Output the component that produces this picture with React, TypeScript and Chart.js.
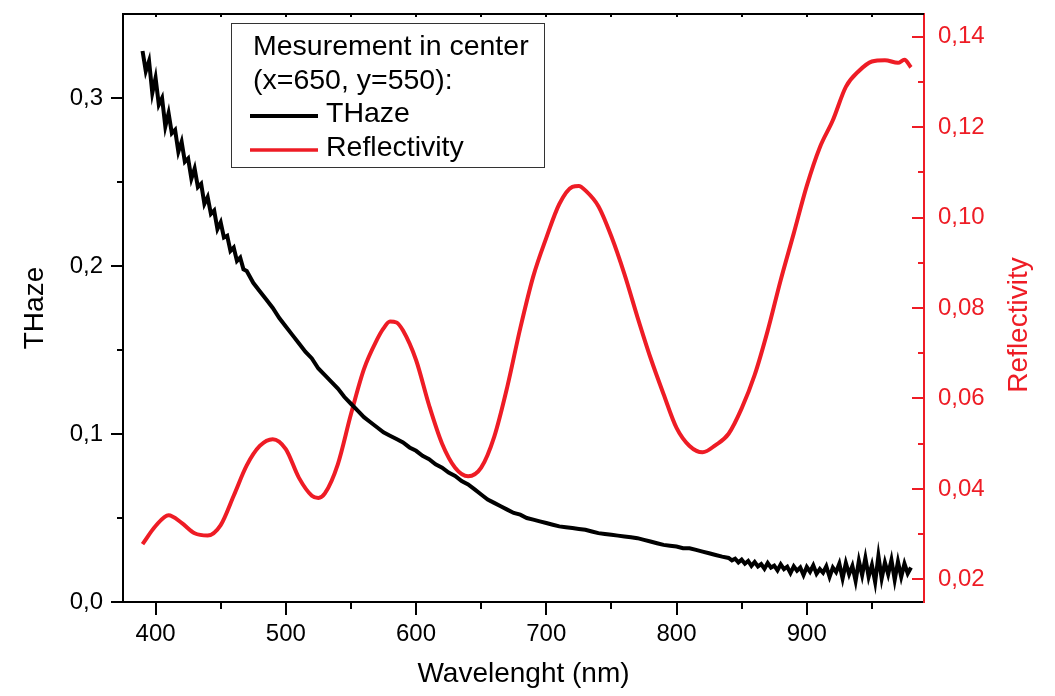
import React, { useEffect, useRef } from 'react';
import { Chart, registerables } from 'chart.js';

Chart.register(...registerables);

const FONT = '"Liberation Sans", Arial, sans-serif';
const RED = '#ee1c25';

// THaze (left axis) – wavelength in nm
const hazeWavelengths = [
  390, 392.5, 395, 397.5, 400, 402.5, 405, 407.5, 410, 412.5, 415, 417.5, 420, 422.5, 425, 427.5,
  430, 432.5, 435, 437.5, 440, 442.5, 445, 447.5, 450, 452.5, 455, 457.5, 460, 462.5, 465, 467.5, 470,
  475, 480, 485, 490, 495, 500, 505, 510, 515, 520, 525, 530, 535, 540, 545, 550, 555, 560, 565, 570,
  575, 580, 585, 590, 595, 600, 605, 610, 615, 620, 625, 630, 635, 640, 645, 650, 655, 660, 665, 670,
  675, 680, 685, 690, 695, 700, 705, 710, 715, 720, 725, 730, 735, 740, 745, 750, 755, 760, 765, 770,
  775, 780, 785, 790, 795, 800, 805, 810, 815, 820, 825, 830, 835,
  840, 842.5, 845, 847.5, 850, 852.5, 855, 857.5, 860, 862.5, 865, 867.5, 870, 872.5, 875, 877.5,
  880, 882.5, 885, 887.5, 890, 892.5, 895, 897.5, 900, 902.5, 905, 907.5, 910, 912.5, 915, 917.5,
  920, 922.5, 925, 927.5, 930, 932.5, 935, 937.5, 940, 942.5, 945, 947.5, 950, 952.5, 955, 957.5,
  960, 962.5, 965, 967.5, 970, 972.5, 975, 977.5, 980,
];
const hazeValues = [
  0.328, 0.316, 0.322, 0.303, 0.312, 0.296, 0.300, 0.283, 0.291, 0.279, 0.281, 0.268, 0.274, 0.262, 0.264, 0.252,
  0.258, 0.247, 0.249, 0.237, 0.241, 0.231, 0.233, 0.222, 0.226, 0.217, 0.218, 0.209, 0.211, 0.203, 0.205, 0.198, 0.197,
  0.190, 0.185, 0.180, 0.175, 0.169, 0.164, 0.159, 0.154, 0.149, 0.145, 0.139, 0.135, 0.131, 0.127, 0.122, 0.118, 0.114, 0.110, 0.107, 0.104,
  0.101, 0.099, 0.097, 0.095, 0.092, 0.090, 0.087, 0.085, 0.082, 0.080, 0.077, 0.075, 0.072, 0.070, 0.067, 0.064, 0.061, 0.059, 0.057, 0.055,
  0.053, 0.052, 0.050, 0.049, 0.048, 0.047, 0.046, 0.045, 0.0445, 0.044, 0.0435, 0.043, 0.042, 0.041, 0.0405, 0.040, 0.0395, 0.039, 0.0385, 0.038,
  0.037, 0.036, 0.035, 0.034, 0.0335, 0.033, 0.032, 0.032, 0.031, 0.030, 0.029, 0.028, 0.027,
  0.0262, 0.0248, 0.0258, 0.0236, 0.0252, 0.0228, 0.0244, 0.0215, 0.0238, 0.0212, 0.0226, 0.0198, 0.0232, 0.0205, 0.0216, 0.0188,
  0.0224, 0.0196, 0.0210, 0.0172, 0.0212, 0.0186, 0.0205, 0.0160, 0.0208, 0.0180, 0.0218, 0.0168, 0.0196, 0.0174, 0.0212, 0.0150,
  0.0205, 0.0178, 0.0228, 0.0140, 0.0232, 0.0165, 0.0215, 0.0125, 0.0245, 0.0160, 0.0262, 0.0150, 0.0220, 0.0118, 0.0275, 0.0140,
  0.0235, 0.0165, 0.0250, 0.0132, 0.0240, 0.0150, 0.0228, 0.0170, 0.0205,
];

// Reflectivity (right axis)
const reflWavelengths = [
  390, 400, 410, 420, 430, 440, 450, 460, 470, 480, 490, 500, 510, 520, 525, 530, 540, 550, 560, 570,
  575, 580, 585, 590, 600, 610, 620, 630, 640, 650, 660, 670, 680, 690, 700, 710, 720, 725, 730, 740,
  750, 760, 770, 780, 790, 800, 810, 820, 830, 840, 850, 860, 870, 880, 890, 900, 910, 920, 930, 940,
  950, 960, 970, 975, 980,
];
const reflValues = [
  0.0278, 0.0318, 0.0342, 0.0325, 0.0302, 0.0297, 0.0320, 0.0385, 0.0452, 0.0495, 0.0510, 0.0488, 0.0425, 0.0385, 0.0380, 0.0390, 0.0455, 0.0565, 0.0665, 0.0730,
  0.0755, 0.0770, 0.0768, 0.0750, 0.0685, 0.0585, 0.0500, 0.0447, 0.0428, 0.0447, 0.0515, 0.0625, 0.0755, 0.0870, 0.0955, 0.1030, 0.1068, 0.1070, 0.1060, 0.1025,
  0.0958, 0.0875, 0.0780, 0.0690, 0.0610, 0.0535, 0.0495, 0.0481, 0.0497, 0.0522, 0.0578, 0.0652, 0.0750, 0.0862, 0.0965, 0.1070, 0.1155, 0.1215, 0.1289, 0.1324,
  0.1345, 0.1348, 0.1342, 0.1349, 0.1332,
];

const xTickValues = [400, 500, 600, 700, 800, 900];
const xMinorTicks = [450, 550, 650, 750, 850, 950];
const leftTickValues = [0, 0.1, 0.2, 0.3];
const leftMinorTicks = [0.05, 0.15, 0.25];
const rightTickValues = [0.02, 0.04, 0.06, 0.08, 0.1, 0.12, 0.14];
const rightMinorTicks = [0.03, 0.05, 0.07, 0.09, 0.11, 0.13];

const legendTitleLines = ['Mesurement in center', '(x=650, y=550):'];
const seriesNames = ['THaze', 'Reflectivity'];
const xTitle = 'Wavelenght (nm)';
const leftTitle = 'THaze';
const rightTitle = 'Reflectivity';

const decorPlugin = {
  id: 'decor',
  afterDraw(chart: any) {
    const ctx = chart.ctx;
    const area = chart.chartArea;
    const xs = chart.scales.x;
    const yl = chart.scales.y;
    const yr = chart.scales.y1;
    ctx.save();
    ctx.lineWidth = 2;
    ctx.lineCap = 'butt';
    ctx.strokeStyle = '#000';
    ctx.beginPath();
    ctx.moveTo(area.left - 1, area.top);
    ctx.lineTo(area.right, area.top);
    ctx.stroke();
    const tick = (x1: number, y1: number, x2: number, y2: number) => {
      ctx.beginPath();
      ctx.moveTo(x1, y1);
      ctx.lineTo(x2, y2);
      ctx.stroke();
    };
    xTickValues.forEach((v) => {
      const p = Math.round(xs.getPixelForValue(v));
      tick(p, area.bottom, p, area.bottom + 13);
      tick(p, area.top, p, area.top + 3);
    });
    xMinorTicks.forEach((v) => {
      const p = Math.round(xs.getPixelForValue(v));
      tick(p, area.bottom, p, area.bottom + 7);
      tick(p, area.top, p, area.top + 3);
    });
    leftTickValues.forEach((v) => {
      const p = Math.round(yl.getPixelForValue(v));
      tick(area.left - 12, p, area.left, p);
    });
    leftMinorTicks.forEach((v) => {
      const p = Math.round(yl.getPixelForValue(v));
      tick(area.left - 6, p, area.left, p);
    });
    ctx.strokeStyle = RED;
    rightTickValues.forEach((v) => {
      const p = Math.round(yr.getPixelForValue(v));
      tick(area.right - 12, p, area.right, p);
    });
    rightMinorTicks.forEach((v) => {
      const p = Math.round(yr.getPixelForValue(v));
      tick(area.right - 6, p, area.right, p);
    });

    // right axis title (reads bottom to top)
    ctx.fillStyle = RED;
    ctx.font = `28px ${FONT}`;
    ctx.textAlign = 'center';
    ctx.textBaseline = 'middle';
    ctx.translate(1019, 325);
    ctx.rotate(-Math.PI / 2);
    ctx.fillText(rightTitle, 0, 0);
    ctx.restore();

    // legend box
    ctx.save();
    ctx.fillStyle = '#fff';
    ctx.fillRect(231, 23, 313, 144);
    ctx.strokeStyle = '#333';
    ctx.lineWidth = 1;
    ctx.strokeRect(231.5, 23.5, 313, 144);
    ctx.fillStyle = '#000';
    ctx.font = `28.5px ${FONT}`;
    ctx.textAlign = 'left';
    ctx.textBaseline = 'middle';
    ctx.fillText(legendTitleLines[0], 253, 47);
    ctx.fillText(legendTitleLines[1], 253, 81);
    const ds = chart.data.datasets;
    const rows = [116, 150];
    ds.forEach((d: any, i: number) => {
      ctx.strokeStyle = d.borderColor;
      ctx.lineWidth = i === 0 ? 4 : 3.5;
      ctx.beginPath();
      ctx.moveTo(250, rows[i]);
      ctx.lineTo(318, rows[i]);
      ctx.stroke();
      ctx.fillStyle = '#000';
      ctx.fillText(seriesNames[i], 326, rows[i] - 2);
    });
    ctx.restore();
  },
};

export default function App() {
  const ref = useRef<HTMLCanvasElement | null>(null);

  useEffect(() => {
    if (!ref.current) return;
    const tickFont = { family: FONT, size: 24 };
    const chart = new Chart(ref.current, {
      type: 'line',
      data: {
        datasets: [
          {
            label: seriesNames[0],
            data: hazeWavelengths.map((x, i) => ({ x, y: hazeValues[i] })),
            borderColor: '#000',
            borderWidth: 4,
            pointRadius: 0,
            tension: 0,
            yAxisID: 'y',
          },
          {
            label: seriesNames[1],
            data: reflWavelengths.map((x, i) => ({ x, y: reflValues[i] })),
            borderColor: RED,
            borderWidth: 4,
            pointRadius: 0,
            cubicInterpolationMode: 'monotone',
            yAxisID: 'y1',
          },
        ],
      },
      options: {
        animation: false,
        responsive: false,
        maintainAspectRatio: false,
        layout: { padding: { top: 14, left: 0, right: 0, bottom: 0 } },
        plugins: { legend: { display: false }, tooltip: { enabled: false } },
        scales: {
          x: {
            type: 'linear',
            position: 'bottom',
            min: 375,
            max: 990,
            grid: { display: false, drawTicks: false },
            border: { display: true, color: '#000', width: 2 },
            ticks: {
              font: tickFont,
              color: '#000',
              padding: 18,
              maxRotation: 0,
              callback: (v: any) => String(v),
            },
            afterBuildTicks: (s: any) => {
              s.ticks = xTickValues.map((v) => ({ value: v }));
            },
            afterFit: (s: any) => {
              s.height = 94;
              s.paddingLeft = 0;
              s.paddingRight = 0;
            },
            title: {
              display: true,
              text: xTitle,
              color: '#000',
              font: { family: FONT, size: 28 },
              padding: { top: 0, bottom: 5 },
            },
          },
          y: {
            type: 'linear',
            position: 'left',
            min: 0,
            max: 0.35,
            grid: { display: false, drawTicks: false },
            border: { display: true, color: '#000', width: 2 },
            ticks: {
              font: tickFont,
              color: '#000',
              padding: 20,
              callback: (v: any) => Number(v).toFixed(1).replace('.', ','),
            },
            afterBuildTicks: (s: any) => {
              s.ticks = leftTickValues.map((v) => ({ value: v }));
            },
            afterFit: (s: any) => {
              s.width = 123;
              s.paddingTop = 0;
              s.paddingBottom = 0;
            },
            title: {
              display: true,
              text: leftTitle,
              color: '#000',
              font: { family: FONT, size: 28 },
              padding: { top: 18, bottom: 0 },
            },
          },
          y1: {
            type: 'linear',
            position: 'right',
            min: 0.015,
            max: 0.145,
            grid: { display: false, drawTicks: false },
            border: { display: true, color: RED, width: 2 },
            ticks: {
              font: tickFont,
              color: RED,
              padding: 14,
              callback: (v: any) => Number(v).toFixed(2).replace('.', ','),
            },
            afterBuildTicks: (s: any) => {
              s.ticks = rightTickValues.map((v) => ({ value: v }));
            },
            afterFit: (s: any) => {
              s.width = 131;
              s.paddingTop = 0;
              s.paddingBottom = 0;
            },
          },
        },
      },
      plugins: [decorPlugin],
    } as any);
    return () => chart.destroy();
  }, []);

  return (
    <div style={{ position: 'fixed', left: 0, top: 0, width: 1055, height: 696, background: '#fff' }}>
      <canvas ref={ref} width={1055} height={696} style={{ display: 'block', width: 1055, height: 696 }} />
    </div>
  );
}
